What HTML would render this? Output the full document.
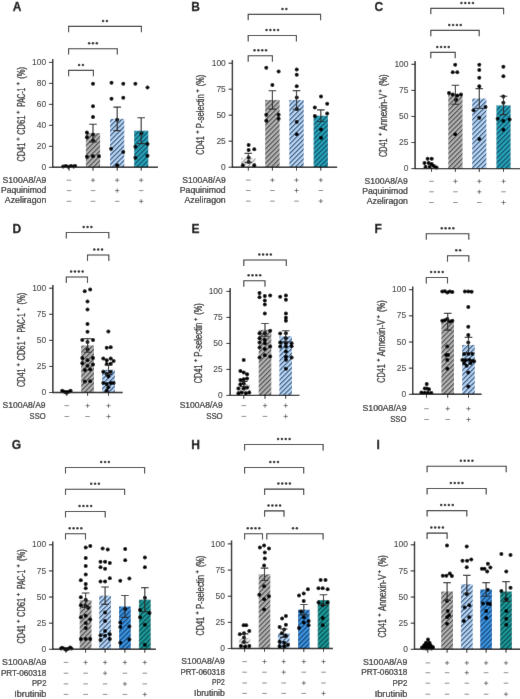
<!DOCTYPE html>
<html><head><meta charset="utf-8"><title>Figure</title>
<style>html,body{margin:0;padding:0;background:#fff;}svg{display:block;will-change:transform;}</style></head>
<body><svg width="520" height="699" viewBox="0 0 520 699" font-family='"Liberation Sans", sans-serif'>
<defs><pattern id="p_ctrl" patternUnits="userSpaceOnUse" width="3.4" height="3.4" patternTransform="rotate(45)"><rect width="3.4" height="3.4" fill="#f2f2f2"/><rect width="1.1" height="3.4" fill="#a0a0a0"/></pattern><pattern id="p_gray" patternUnits="userSpaceOnUse" width="3.4" height="3.4" patternTransform="rotate(45)"><rect width="3.4" height="3.4" fill="#b3b3b3"/><rect width="1.1" height="3.4" fill="#454545"/></pattern><pattern id="p_lb" patternUnits="userSpaceOnUse" width="3.4" height="3.4" patternTransform="rotate(45)"><rect width="3.4" height="3.4" fill="#b7d5f4"/><rect width="1.1" height="3.4" fill="#2e4b70"/></pattern><pattern id="p_teal" patternUnits="userSpaceOnUse" width="3.4" height="3.4" patternTransform="rotate(45)"><rect width="3.4" height="3.4" fill="#27a3b8"/><rect width="1.1" height="3.4" fill="#0c4660"/></pattern><pattern id="p_teal2" patternUnits="userSpaceOnUse" width="3.4" height="3.4" patternTransform="rotate(45)"><rect width="3.4" height="3.4" fill="#1b9898"/><rect width="1.1" height="3.4" fill="#0a4646"/></pattern><pattern id="p_pp2" patternUnits="userSpaceOnUse" width="3.4" height="3.4" patternTransform="rotate(45)"><rect width="3.4" height="3.4" fill="#3b93de"/><rect width="1.1" height="3.4" fill="#123c6c"/></pattern><filter id="bl" x="0" y="0" width="100%" height="100%" filterUnits="userSpaceOnUse"><feConvolveMatrix order="3" kernelMatrix="0.0036 0.0528 0.0036 0.0528 0.7744 0.0528 0.0036 0.0528 0.0036" divisor="1" edgeMode="duplicate" preserveAlpha="true"/></filter></defs>
<g filter="url(#bl)">
<rect width="520" height="699" fill="#fff"/>
<text x="12.8" y="10.7" font-weight="bold" font-size="12" fill="#111" stroke="#111" stroke-width="0.3">A</text>
<rect x="61.9" y="166.25" width="14.2" height="1.05" fill="url(#p_ctrl)"/>
<rect x="85.9" y="133.1" width="14.2" height="34.2" fill="url(#p_gray)"/>
<rect x="110.1" y="118.84" width="14.2" height="48.46" fill="url(#p_lb)"/>
<rect x="134.1" y="130.69" width="14.2" height="36.61" fill="url(#p_teal)"/>
<circle cx="63.2" cy="166.5" r="2.0"/>
<circle cx="65.8" cy="165.9" r="2.0"/>
<circle cx="68.4" cy="166.8" r="2.0"/>
<circle cx="71" cy="165.9" r="2.0"/>
<circle cx="73.6" cy="166.6" r="2.0"/>
<circle cx="75.2" cy="166" r="2.0"/>
<circle cx="93" cy="83.7" r="2.0"/>
<circle cx="93" cy="106.3" r="2.0"/>
<circle cx="93" cy="117" r="2.0"/>
<circle cx="86.9" cy="132.6" r="2.0"/>
<circle cx="93" cy="134.6" r="2.0"/>
<circle cx="86.9" cy="137.2" r="2.0"/>
<circle cx="93" cy="140.6" r="2.0"/>
<circle cx="86.9" cy="156.8" r="2.0"/>
<circle cx="93" cy="156.2" r="2.0"/>
<circle cx="99" cy="156.2" r="2.0"/>
<circle cx="111.5" cy="82.7" r="2.0"/>
<circle cx="123.3" cy="83.7" r="2.0"/>
<circle cx="111.5" cy="98.8" r="2.0"/>
<circle cx="123.3" cy="97.8" r="2.0"/>
<circle cx="117.2" cy="119.8" r="2.0"/>
<circle cx="111.1" cy="148.7" r="2.0"/>
<circle cx="123.3" cy="152.1" r="2.0"/>
<circle cx="117.2" cy="165.3" r="2.0"/>
<circle cx="135.4" cy="83.7" r="2.0"/>
<circle cx="147.5" cy="87.5" r="2.0"/>
<circle cx="141.4" cy="133.6" r="2.0"/>
<circle cx="135.4" cy="146.7" r="2.0"/>
<circle cx="147.5" cy="144.1" r="2.0"/>
<circle cx="135.4" cy="157.8" r="2.0"/>
<circle cx="147.5" cy="155.8" r="2.0"/>
<path d="M93 124.29V141.91M89.2 124.29H96.8M89.2 141.91H96.8" stroke="#2a2a2a" stroke-width="1.15" fill="none"/>
<path d="M117.2 107.09V130.59M113.4 107.09H121M113.4 130.59H121" stroke="#2a2a2a" stroke-width="1.15" fill="none"/>
<path d="M141.2 117.79V143.59M137.4 117.79H145M137.4 143.59H145" stroke="#2a2a2a" stroke-width="1.15" fill="none"/>
<path d="M52.7 59.1V167.3H158" stroke="#151515" stroke-width="1.4" fill="none"/>
<path d="M48.9 167.3H52.7M48.9 146.32H52.7M48.9 125.34H52.7M48.9 104.36H52.7M48.9 83.38H52.7M48.9 62.4H52.7M69 167.3V170.7M93 167.3V170.7M117.2 167.3V170.7M141.2 167.3V170.7" stroke="#151515" stroke-width="1" fill="none"/>
<text x="46.1" y="169.9" text-anchor="end" font-size="9.4" fill="#2a2a2a" stroke="#2a2a2a" stroke-width="0.05" textLength="4.7" lengthAdjust="spacingAndGlyphs">0</text>
<text x="46.1" y="148.92" text-anchor="end" font-size="9.4" fill="#2a2a2a" stroke="#2a2a2a" stroke-width="0.05" textLength="9.41" lengthAdjust="spacingAndGlyphs">20</text>
<text x="46.1" y="127.94" text-anchor="end" font-size="9.4" fill="#2a2a2a" stroke="#2a2a2a" stroke-width="0.05" textLength="9.41" lengthAdjust="spacingAndGlyphs">40</text>
<text x="46.1" y="106.96" text-anchor="end" font-size="9.4" fill="#2a2a2a" stroke="#2a2a2a" stroke-width="0.05" textLength="9.41" lengthAdjust="spacingAndGlyphs">60</text>
<text x="46.1" y="85.98" text-anchor="end" font-size="9.4" fill="#2a2a2a" stroke="#2a2a2a" stroke-width="0.05" textLength="9.41" lengthAdjust="spacingAndGlyphs">80</text>
<text x="46.1" y="65" text-anchor="end" font-size="9.4" fill="#2a2a2a" stroke="#2a2a2a" stroke-width="0.05" textLength="14.11" lengthAdjust="spacingAndGlyphs">100</text>
<path d="M68.6 76.3V70.4H93.4V76.3" stroke="#2c2c2c" stroke-width="1.1" fill="none"/>
<circle cx="79.08" cy="64.9" r="1.25" fill="#222"/>
<circle cx="82.92" cy="64.9" r="1.25" fill="#222"/>
<path d="M68.6 54.6V48.7H117.3V54.6" stroke="#2c2c2c" stroke-width="1.1" fill="none"/>
<circle cx="89.1" cy="43.2" r="1.25" fill="#222"/>
<circle cx="92.95" cy="43.2" r="1.25" fill="#222"/>
<circle cx="96.8" cy="43.2" r="1.25" fill="#222"/>
<path d="M68.6 32.3V26.4H141.4V32.3" stroke="#2c2c2c" stroke-width="1.1" fill="none"/>
<circle cx="103.08" cy="20.9" r="1.25" fill="#222"/>
<circle cx="106.92" cy="20.9" r="1.25" fill="#222"/>
<text transform="translate(24.6,161.4) rotate(-90)" font-size="10.5" fill="#2a2a2a" stroke="#2a2a2a" stroke-width="0.32" textLength="18.6" lengthAdjust="spacingAndGlyphs">CD41</text>
<path d="M16.5 139.1H19.7M18.1 137.5V140.7" stroke="#2a2a2a" stroke-width="0.85" fill="none"/>
<text transform="translate(24.6,134.8) rotate(-90)" font-size="10.5" fill="#2a2a2a" stroke="#2a2a2a" stroke-width="0.32" textLength="19.1" lengthAdjust="spacingAndGlyphs">CD61</text>
<path d="M16.5 112.35H19.7M18.1 110.75V113.95" stroke="#2a2a2a" stroke-width="0.85" fill="none"/>
<text transform="translate(24.6,106.8) rotate(-90)" font-size="10.5" fill="#2a2a2a" stroke="#2a2a2a" stroke-width="0.32" textLength="19.1" lengthAdjust="spacingAndGlyphs">PAC-1</text>
<path d="M16.5 83.65H19.7M18.1 82.05V85.25" stroke="#2a2a2a" stroke-width="0.85" fill="none"/>
<text transform="translate(24.6,78.7) rotate(-90)" font-size="10.5" fill="#2a2a2a" stroke="#2a2a2a" stroke-width="0.32" textLength="11.8" lengthAdjust="spacingAndGlyphs">(%)</text>
<text x="46.3" y="182.7" text-anchor="end" font-size="9.0" fill="#2a2a2a" stroke="#2a2a2a" stroke-width="0.24" textLength="43.8" lengthAdjust="spacingAndGlyphs">S100A8/A9</text>
<path d="M66.7 180.2H71.3" stroke="#777" stroke-width="0.85" fill="none"/>
<path d="M90.9 180.2H95.1M93 178.1V182.3" stroke="#555" stroke-width="0.8" fill="none"/>
<path d="M115.1 180.2H119.3M117.2 178.1V182.3" stroke="#555" stroke-width="0.8" fill="none"/>
<path d="M139.1 180.2H143.3M141.2 178.1V182.3" stroke="#555" stroke-width="0.8" fill="none"/>
<text x="46.3" y="192.7" text-anchor="end" font-size="9.0" fill="#2a2a2a" stroke="#2a2a2a" stroke-width="0.24" textLength="45.2" lengthAdjust="spacingAndGlyphs">Paquinimod</text>
<path d="M66.7 190.6H71.3" stroke="#777" stroke-width="0.85" fill="none"/>
<path d="M90.7 190.6H95.3" stroke="#777" stroke-width="0.85" fill="none"/>
<path d="M115.1 190.6H119.3M117.2 188.5V192.7" stroke="#555" stroke-width="0.8" fill="none"/>
<path d="M138.9 190.6H143.5" stroke="#777" stroke-width="0.85" fill="none"/>
<text x="46.3" y="202.9" text-anchor="end" font-size="9.0" fill="#2a2a2a" stroke="#2a2a2a" stroke-width="0.24" textLength="41.5" lengthAdjust="spacingAndGlyphs">Azeliragon</text>
<path d="M66.7 201.3H71.3" stroke="#777" stroke-width="0.85" fill="none"/>
<path d="M90.7 201.3H95.3" stroke="#777" stroke-width="0.85" fill="none"/>
<path d="M114.9 201.3H119.5" stroke="#777" stroke-width="0.85" fill="none"/>
<path d="M139.1 201.3H143.3M141.2 199.2V203.4" stroke="#555" stroke-width="0.8" fill="none"/>
<text x="191.2" y="10.7" font-weight="bold" font-size="12" fill="#111" stroke="#111" stroke-width="0.3">B</text>
<rect x="241.1" y="157.84" width="14.4" height="9.36" fill="url(#p_ctrl)"/>
<rect x="265.2" y="99.91" width="14.4" height="67.29" fill="url(#p_gray)"/>
<rect x="289.3" y="99.91" width="14.4" height="67.29" fill="url(#p_lb)"/>
<rect x="313.6" y="115.72" width="14.4" height="51.48" fill="url(#p_teal)"/>
<circle cx="248.6" cy="144.9" r="2.0"/>
<circle cx="248.6" cy="150.1" r="2.0"/>
<circle cx="254.3" cy="149.2" r="2.0"/>
<circle cx="248.6" cy="157.5" r="2.0"/>
<circle cx="248.6" cy="162" r="2.0"/>
<circle cx="242.8" cy="165.3" r="2.0"/>
<circle cx="254.3" cy="165.3" r="2.0"/>
<circle cx="266.3" cy="67.8" r="2.0"/>
<circle cx="278.6" cy="71.5" r="2.0"/>
<circle cx="272.4" cy="85" r="2.0"/>
<circle cx="266.3" cy="114.7" r="2.0"/>
<circle cx="278.6" cy="114.7" r="2.0"/>
<circle cx="266.3" cy="120.8" r="2.0"/>
<circle cx="278.6" cy="118.8" r="2.0"/>
<circle cx="296.7" cy="69.4" r="2.0"/>
<circle cx="296.7" cy="74.8" r="2.0"/>
<circle cx="296.7" cy="86.3" r="2.0"/>
<circle cx="296.7" cy="97.4" r="2.0"/>
<circle cx="296.7" cy="108.9" r="2.0"/>
<circle cx="296.7" cy="121.9" r="2.0"/>
<circle cx="296.7" cy="134.2" r="2.0"/>
<circle cx="321" cy="96.6" r="2.0"/>
<circle cx="314.8" cy="107.5" r="2.0"/>
<circle cx="327.2" cy="103.8" r="2.0"/>
<circle cx="314.8" cy="115.9" r="2.0"/>
<circle cx="327.2" cy="113.6" r="2.0"/>
<circle cx="321" cy="129.5" r="2.0"/>
<circle cx="321" cy="137.7" r="2.0"/>
<path d="M248.3 153.37V162.31M244.5 153.37H252.1M244.5 162.31H252.1" stroke="#2a2a2a" stroke-width="1.15" fill="none"/>
<path d="M272.4 90.76V109.06M268.6 90.76H276.2M268.6 109.06H276.2" stroke="#2a2a2a" stroke-width="1.15" fill="none"/>
<path d="M296.5 90.55V109.27M292.7 90.55H300.3M292.7 109.27H300.3" stroke="#2a2a2a" stroke-width="1.15" fill="none"/>
<path d="M320.8 109.9V121.54M317 109.9H324.6M317 121.54H324.6" stroke="#2a2a2a" stroke-width="1.15" fill="none"/>
<path d="M232.4 59.9V167.2H337.2" stroke="#151515" stroke-width="1.4" fill="none"/>
<path d="M228.6 167.2H232.4M228.6 141.2H232.4M228.6 115.2H232.4M228.6 89.2H232.4M228.6 63.2H232.4M248.3 167.2V170.6M272.4 167.2V170.6M296.5 167.2V170.6M320.8 167.2V170.6" stroke="#151515" stroke-width="1" fill="none"/>
<text x="225.8" y="169.8" text-anchor="end" font-size="9.4" fill="#2a2a2a" stroke="#2a2a2a" stroke-width="0.05" textLength="4.7" lengthAdjust="spacingAndGlyphs">0</text>
<text x="225.8" y="143.8" text-anchor="end" font-size="9.4" fill="#2a2a2a" stroke="#2a2a2a" stroke-width="0.05" textLength="9.41" lengthAdjust="spacingAndGlyphs">25</text>
<text x="225.8" y="117.8" text-anchor="end" font-size="9.4" fill="#2a2a2a" stroke="#2a2a2a" stroke-width="0.05" textLength="9.41" lengthAdjust="spacingAndGlyphs">50</text>
<text x="225.8" y="91.8" text-anchor="end" font-size="9.4" fill="#2a2a2a" stroke="#2a2a2a" stroke-width="0.05" textLength="9.41" lengthAdjust="spacingAndGlyphs">75</text>
<text x="225.8" y="65.8" text-anchor="end" font-size="9.4" fill="#2a2a2a" stroke="#2a2a2a" stroke-width="0.05" textLength="14.11" lengthAdjust="spacingAndGlyphs">100</text>
<path d="M248.2 61.7V55.8H272.4V61.7" stroke="#2c2c2c" stroke-width="1.1" fill="none"/>
<circle cx="254.52" cy="50.3" r="1.25" fill="#222"/>
<circle cx="258.37" cy="50.3" r="1.25" fill="#222"/>
<circle cx="262.22" cy="50.3" r="1.25" fill="#222"/>
<circle cx="266.07" cy="50.3" r="1.25" fill="#222"/>
<path d="M248.2 41.4V35.5H296.4V41.4" stroke="#2c2c2c" stroke-width="1.1" fill="none"/>
<circle cx="266.52" cy="30" r="1.25" fill="#222"/>
<circle cx="270.37" cy="30" r="1.25" fill="#222"/>
<circle cx="274.22" cy="30" r="1.25" fill="#222"/>
<circle cx="278.07" cy="30" r="1.25" fill="#222"/>
<path d="M248.2 20.3V14.4H320.6V20.3" stroke="#2c2c2c" stroke-width="1.1" fill="none"/>
<circle cx="282.47" cy="8.9" r="1.25" fill="#222"/>
<circle cx="286.32" cy="8.9" r="1.25" fill="#222"/>
<text transform="translate(204.1,154.7) rotate(-90)" font-size="10.5" fill="#2a2a2a" stroke="#2a2a2a" stroke-width="0.32" textLength="18.6" lengthAdjust="spacingAndGlyphs">CD41</text>
<path d="M196 132.05H199.2M197.6 130.45V133.65" stroke="#2a2a2a" stroke-width="0.85" fill="none"/>
<text transform="translate(204.1,128.2) rotate(-90)" font-size="10.5" fill="#2a2a2a" stroke="#2a2a2a" stroke-width="0.32" textLength="34.1" lengthAdjust="spacingAndGlyphs">P-selectin</text>
<path d="M196 90.9H199.2M197.6 89.3V92.5" stroke="#2a2a2a" stroke-width="0.85" fill="none"/>
<text transform="translate(204.1,86.2) rotate(-90)" font-size="10.5" fill="#2a2a2a" stroke="#2a2a2a" stroke-width="0.32" textLength="11.4" lengthAdjust="spacingAndGlyphs">(%)</text>
<text x="225.7" y="182.6" text-anchor="end" font-size="9.0" fill="#2a2a2a" stroke="#2a2a2a" stroke-width="0.24" textLength="43.4" lengthAdjust="spacingAndGlyphs">S100A8/A9</text>
<path d="M246 180.1H250.6" stroke="#777" stroke-width="0.85" fill="none"/>
<path d="M270.3 180.1H274.5M272.4 178V182.2" stroke="#555" stroke-width="0.8" fill="none"/>
<path d="M294.4 180.1H298.6M296.5 178V182.2" stroke="#555" stroke-width="0.8" fill="none"/>
<path d="M318.7 180.1H322.9M320.8 178V182.2" stroke="#555" stroke-width="0.8" fill="none"/>
<text x="225.7" y="192.6" text-anchor="end" font-size="9.0" fill="#2a2a2a" stroke="#2a2a2a" stroke-width="0.24" textLength="45.9" lengthAdjust="spacingAndGlyphs">Paquinimod</text>
<path d="M246 190.5H250.6" stroke="#777" stroke-width="0.85" fill="none"/>
<path d="M270.1 190.5H274.7" stroke="#777" stroke-width="0.85" fill="none"/>
<path d="M294.4 190.5H298.6M296.5 188.4V192.6" stroke="#555" stroke-width="0.8" fill="none"/>
<path d="M318.5 190.5H323.1" stroke="#777" stroke-width="0.85" fill="none"/>
<text x="225.7" y="202.7" text-anchor="end" font-size="9.0" fill="#2a2a2a" stroke="#2a2a2a" stroke-width="0.24" textLength="41.2" lengthAdjust="spacingAndGlyphs">Azeliragon</text>
<path d="M246 201.1H250.6" stroke="#777" stroke-width="0.85" fill="none"/>
<path d="M270.1 201.1H274.7" stroke="#777" stroke-width="0.85" fill="none"/>
<path d="M294.2 201.1H298.8" stroke="#777" stroke-width="0.85" fill="none"/>
<path d="M318.7 201.1H322.9M320.8 199V203.2" stroke="#555" stroke-width="0.8" fill="none"/>
<text x="374.6" y="10.7" font-weight="bold" font-size="12" fill="#111" stroke="#111" stroke-width="0.3">C</text>
<rect x="424.4" y="165.47" width="14.2" height="3.13" fill="url(#p_ctrl)"/>
<rect x="448.3" y="94.76" width="14.2" height="73.84" fill="url(#p_gray)"/>
<rect x="472.2" y="98.51" width="14.2" height="70.09" fill="url(#p_lb)"/>
<rect x="496.4" y="105.39" width="14.2" height="63.21" fill="url(#p_teal)"/>
<circle cx="427.6" cy="158.8" r="2.0"/>
<circle cx="431.7" cy="158.8" r="2.0"/>
<circle cx="424.5" cy="163" r="2.0"/>
<circle cx="428.6" cy="163" r="2.0"/>
<circle cx="431.7" cy="164" r="2.0"/>
<circle cx="425.5" cy="167.1" r="2.0"/>
<circle cx="429.7" cy="167.1" r="2.0"/>
<circle cx="433.8" cy="166.1" r="2.0"/>
<circle cx="436.5" cy="167.6" r="2.0"/>
<circle cx="455.2" cy="64.8" r="2.0"/>
<circle cx="452.7" cy="72.2" r="2.0"/>
<circle cx="457.3" cy="72.2" r="2.0"/>
<circle cx="449" cy="93" r="2.0"/>
<circle cx="452.7" cy="94.5" r="2.0"/>
<circle cx="457.3" cy="95.5" r="2.0"/>
<circle cx="461" cy="94.5" r="2.0"/>
<circle cx="456" cy="99.7" r="2.0"/>
<circle cx="455.2" cy="134.3" r="2.0"/>
<circle cx="479.3" cy="64.8" r="2.0"/>
<circle cx="479.3" cy="70" r="2.0"/>
<circle cx="479.3" cy="77.8" r="2.0"/>
<circle cx="479.3" cy="86.2" r="2.0"/>
<circle cx="473.5" cy="110.2" r="2.0"/>
<circle cx="485.5" cy="106.9" r="2.0"/>
<circle cx="479.3" cy="117.7" r="2.0"/>
<circle cx="479.3" cy="139.1" r="2.0"/>
<circle cx="503.4" cy="66.8" r="2.0"/>
<circle cx="503.4" cy="76.2" r="2.0"/>
<circle cx="503.4" cy="96.5" r="2.0"/>
<circle cx="503.4" cy="102.8" r="2.0"/>
<circle cx="497.6" cy="118.8" r="2.0"/>
<circle cx="503.4" cy="121" r="2.0"/>
<circle cx="509.6" cy="119.4" r="2.0"/>
<circle cx="503.4" cy="129.8" r="2.0"/>
<path d="M455.4 85.26V104.25M451.6 85.26H459.2M451.6 104.25H459.2" stroke="#2a2a2a" stroke-width="1.15" fill="none"/>
<path d="M479.3 88.6V108.42M475.5 88.6H483.1M475.5 108.42H483.1" stroke="#2a2a2a" stroke-width="1.15" fill="none"/>
<path d="M503.5 96.22V114.57M499.7 96.22H507.3M499.7 114.57H507.3" stroke="#2a2a2a" stroke-width="1.15" fill="none"/>
<path d="M415.1 61V168.6H520" stroke="#151515" stroke-width="1.4" fill="none"/>
<path d="M411.3 168.6H415.1M411.3 142.53H415.1M411.3 116.45H415.1M411.3 90.38H415.1M411.3 64.3H415.1M431.5 168.6V172M455.4 168.6V172M479.3 168.6V172M503.5 168.6V172" stroke="#151515" stroke-width="1" fill="none"/>
<text x="408.5" y="171.2" text-anchor="end" font-size="9.4" fill="#2a2a2a" stroke="#2a2a2a" stroke-width="0.05" textLength="4.7" lengthAdjust="spacingAndGlyphs">0</text>
<text x="408.5" y="145.12" text-anchor="end" font-size="9.4" fill="#2a2a2a" stroke="#2a2a2a" stroke-width="0.05" textLength="9.41" lengthAdjust="spacingAndGlyphs">25</text>
<text x="408.5" y="119.05" text-anchor="end" font-size="9.4" fill="#2a2a2a" stroke="#2a2a2a" stroke-width="0.05" textLength="9.41" lengthAdjust="spacingAndGlyphs">50</text>
<text x="408.5" y="92.97" text-anchor="end" font-size="9.4" fill="#2a2a2a" stroke="#2a2a2a" stroke-width="0.05" textLength="9.41" lengthAdjust="spacingAndGlyphs">75</text>
<text x="408.5" y="66.9" text-anchor="end" font-size="9.4" fill="#2a2a2a" stroke="#2a2a2a" stroke-width="0.05" textLength="14.11" lengthAdjust="spacingAndGlyphs">100</text>
<path d="M430.8 58.3V52.4H455.2V58.3" stroke="#2c2c2c" stroke-width="1.1" fill="none"/>
<circle cx="437.23" cy="46.9" r="1.25" fill="#222"/>
<circle cx="441.07" cy="46.9" r="1.25" fill="#222"/>
<circle cx="444.93" cy="46.9" r="1.25" fill="#222"/>
<circle cx="448.77" cy="46.9" r="1.25" fill="#222"/>
<path d="M430.8 36.3V30.4H479.2V36.3" stroke="#2c2c2c" stroke-width="1.1" fill="none"/>
<circle cx="449.23" cy="24.9" r="1.25" fill="#222"/>
<circle cx="453.07" cy="24.9" r="1.25" fill="#222"/>
<circle cx="456.93" cy="24.9" r="1.25" fill="#222"/>
<circle cx="460.77" cy="24.9" r="1.25" fill="#222"/>
<path d="M430.8 14.3V8.4H503.6V14.3" stroke="#2c2c2c" stroke-width="1.1" fill="none"/>
<circle cx="461.43" cy="2.9" r="1.25" fill="#222"/>
<circle cx="465.28" cy="2.9" r="1.25" fill="#222"/>
<circle cx="469.13" cy="2.9" r="1.25" fill="#222"/>
<circle cx="472.98" cy="2.9" r="1.25" fill="#222"/>
<text transform="translate(386.7,156.9) rotate(-90)" font-size="10.5" fill="#2a2a2a" stroke="#2a2a2a" stroke-width="0.32" textLength="18.5" lengthAdjust="spacingAndGlyphs">CD41</text>
<path d="M378.6 134.35H381.8M380.2 132.75V135.95" stroke="#2a2a2a" stroke-width="0.85" fill="none"/>
<text transform="translate(386.7,130.4) rotate(-90)" font-size="10.5" fill="#2a2a2a" stroke="#2a2a2a" stroke-width="0.32" textLength="36.6" lengthAdjust="spacingAndGlyphs">Annexin-V</text>
<path d="M378.6 91H381.8M380.2 89.4V92.6" stroke="#2a2a2a" stroke-width="0.85" fill="none"/>
<text transform="translate(386.7,86.1) rotate(-90)" font-size="10.5" fill="#2a2a2a" stroke="#2a2a2a" stroke-width="0.32" textLength="11.6" lengthAdjust="spacingAndGlyphs">(%)</text>
<text x="407.8" y="183.8" text-anchor="end" font-size="9.0" fill="#2a2a2a" stroke="#2a2a2a" stroke-width="0.24" textLength="43.3" lengthAdjust="spacingAndGlyphs">S100A8/A9</text>
<path d="M429.2 181.3H433.8" stroke="#777" stroke-width="0.85" fill="none"/>
<path d="M453.3 181.3H457.5M455.4 179.2V183.4" stroke="#555" stroke-width="0.8" fill="none"/>
<path d="M477.2 181.3H481.4M479.3 179.2V183.4" stroke="#555" stroke-width="0.8" fill="none"/>
<path d="M501.4 181.3H505.6M503.5 179.2V183.4" stroke="#555" stroke-width="0.8" fill="none"/>
<text x="407.8" y="193.9" text-anchor="end" font-size="9.0" fill="#2a2a2a" stroke="#2a2a2a" stroke-width="0.24" textLength="45.6" lengthAdjust="spacingAndGlyphs">Paquinimod</text>
<path d="M429.2 191.8H433.8" stroke="#777" stroke-width="0.85" fill="none"/>
<path d="M453.1 191.8H457.7" stroke="#777" stroke-width="0.85" fill="none"/>
<path d="M477.2 191.8H481.4M479.3 189.7V193.9" stroke="#555" stroke-width="0.8" fill="none"/>
<path d="M501.2 191.8H505.8" stroke="#777" stroke-width="0.85" fill="none"/>
<text x="407.8" y="204.1" text-anchor="end" font-size="9.0" fill="#2a2a2a" stroke="#2a2a2a" stroke-width="0.24" textLength="41" lengthAdjust="spacingAndGlyphs">Azeliragon</text>
<path d="M429.2 202.5H433.8" stroke="#777" stroke-width="0.85" fill="none"/>
<path d="M453.1 202.5H457.7" stroke="#777" stroke-width="0.85" fill="none"/>
<path d="M477 202.5H481.6" stroke="#777" stroke-width="0.85" fill="none"/>
<path d="M501.4 202.5H505.6M503.5 200.4V204.6" stroke="#555" stroke-width="0.8" fill="none"/>
<text x="12.5" y="233.4" font-weight="bold" font-size="12" fill="#111" stroke="#111" stroke-width="0.3">D</text>
<rect x="60.4" y="391.46" width="12.8" height="1.04" fill="url(#p_ctrl)"/>
<rect x="81.2" y="345.46" width="12.8" height="47.04" fill="url(#p_gray)"/>
<rect x="102.1" y="369.76" width="12.8" height="22.74" fill="url(#p_lb)"/>
<circle cx="62.2" cy="390.8" r="2.0"/>
<circle cx="64.5" cy="391.8" r="2.0"/>
<circle cx="66.5" cy="392.2" r="2.0"/>
<circle cx="68.5" cy="391.8" r="2.0"/>
<circle cx="70.6" cy="390.8" r="2.0"/>
<circle cx="66.4" cy="392.8" r="2.0"/>
<circle cx="84.7" cy="291.2" r="2.0"/>
<circle cx="90.2" cy="289.4" r="2.0"/>
<circle cx="87.5" cy="301.5" r="2.0"/>
<circle cx="87.5" cy="309.5" r="2.0"/>
<circle cx="87.5" cy="324.1" r="2.0"/>
<circle cx="87.5" cy="331.8" r="2.0"/>
<circle cx="82.3" cy="340.1" r="2.0"/>
<circle cx="93" cy="340.1" r="2.0"/>
<circle cx="87.5" cy="342.1" r="2.0"/>
<circle cx="87.5" cy="349.5" r="2.0"/>
<circle cx="82.3" cy="358.1" r="2.0"/>
<circle cx="87.5" cy="360.3" r="2.0"/>
<circle cx="93" cy="358.1" r="2.0"/>
<circle cx="82.3" cy="363.3" r="2.0"/>
<circle cx="87.5" cy="365.8" r="2.0"/>
<circle cx="93" cy="364.5" r="2.0"/>
<circle cx="90.2" cy="369.6" r="2.0"/>
<circle cx="84.9" cy="370.1" r="2.0"/>
<circle cx="84.9" cy="381.6" r="2.0"/>
<circle cx="90.2" cy="381.3" r="2.0"/>
<circle cx="108.4" cy="331.5" r="2.0"/>
<circle cx="106.7" cy="347.8" r="2.0"/>
<circle cx="110.7" cy="347.3" r="2.0"/>
<circle cx="103.3" cy="358.6" r="2.0"/>
<circle cx="106.7" cy="360.3" r="2.0"/>
<circle cx="110.7" cy="358.6" r="2.0"/>
<circle cx="113.6" cy="361" r="2.0"/>
<circle cx="106.7" cy="364.1" r="2.0"/>
<circle cx="110.7" cy="363.8" r="2.0"/>
<circle cx="103.3" cy="371.8" r="2.0"/>
<circle cx="106.7" cy="374.1" r="2.0"/>
<circle cx="110.7" cy="371.8" r="2.0"/>
<circle cx="108.4" cy="376.5" r="2.0"/>
<circle cx="103.3" cy="383" r="2.0"/>
<circle cx="106.7" cy="383.9" r="2.0"/>
<circle cx="110.7" cy="383" r="2.0"/>
<circle cx="113.6" cy="383" r="2.0"/>
<circle cx="108.4" cy="387.3" r="2.0"/>
<circle cx="106.7" cy="390.4" r="2.0"/>
<path d="M87.6 338.68V352.24M83.8 338.68H91.4M83.8 352.24H91.4" stroke="#2a2a2a" stroke-width="1.15" fill="none"/>
<path d="M108.5 365.17V374.35M104.7 365.17H112.3M104.7 374.35H112.3" stroke="#2a2a2a" stroke-width="1.15" fill="none"/>
<path d="M52.85 284.9V392.5H122.7" stroke="#151515" stroke-width="1.4" fill="none"/>
<path d="M49.05 392.5H52.85M49.05 366.43H52.85M49.05 340.35H52.85M49.05 314.27H52.85M49.05 288.2H52.85M66.8 392.5V395.9M87.6 392.5V395.9M108.5 392.5V395.9" stroke="#151515" stroke-width="1" fill="none"/>
<text x="46.25" y="395.1" text-anchor="end" font-size="9.4" fill="#2a2a2a" stroke="#2a2a2a" stroke-width="0.05" textLength="4.7" lengthAdjust="spacingAndGlyphs">0</text>
<text x="46.25" y="369.03" text-anchor="end" font-size="9.4" fill="#2a2a2a" stroke="#2a2a2a" stroke-width="0.05" textLength="9.41" lengthAdjust="spacingAndGlyphs">25</text>
<text x="46.25" y="342.95" text-anchor="end" font-size="9.4" fill="#2a2a2a" stroke="#2a2a2a" stroke-width="0.05" textLength="9.41" lengthAdjust="spacingAndGlyphs">50</text>
<text x="46.25" y="316.88" text-anchor="end" font-size="9.4" fill="#2a2a2a" stroke="#2a2a2a" stroke-width="0.05" textLength="9.41" lengthAdjust="spacingAndGlyphs">75</text>
<text x="46.25" y="290.8" text-anchor="end" font-size="9.4" fill="#2a2a2a" stroke="#2a2a2a" stroke-width="0.05" textLength="14.11" lengthAdjust="spacingAndGlyphs">100</text>
<path d="M66.3 282.9V277H87.5V282.9" stroke="#2c2c2c" stroke-width="1.1" fill="none"/>
<circle cx="71.12" cy="271.5" r="1.25" fill="#222"/>
<circle cx="74.98" cy="271.5" r="1.25" fill="#222"/>
<circle cx="78.83" cy="271.5" r="1.25" fill="#222"/>
<circle cx="82.68" cy="271.5" r="1.25" fill="#222"/>
<path d="M87.5 260.9V255H108.8V260.9" stroke="#2c2c2c" stroke-width="1.1" fill="none"/>
<circle cx="94.3" cy="249.5" r="1.25" fill="#222"/>
<circle cx="98.15" cy="249.5" r="1.25" fill="#222"/>
<circle cx="102" cy="249.5" r="1.25" fill="#222"/>
<path d="M66.3 238.4V232.5H108.8V238.4" stroke="#2c2c2c" stroke-width="1.1" fill="none"/>
<circle cx="83.7" cy="227" r="1.25" fill="#222"/>
<circle cx="87.55" cy="227" r="1.25" fill="#222"/>
<circle cx="91.4" cy="227" r="1.25" fill="#222"/>
<text transform="translate(24.8,387.1) rotate(-90)" font-size="10.5" fill="#2a2a2a" stroke="#2a2a2a" stroke-width="0.32" textLength="18.6" lengthAdjust="spacingAndGlyphs">CD41</text>
<path d="M16.7 364.8H19.9M18.3 363.2V366.4" stroke="#2a2a2a" stroke-width="0.85" fill="none"/>
<text transform="translate(24.8,360.5) rotate(-90)" font-size="10.5" fill="#2a2a2a" stroke="#2a2a2a" stroke-width="0.32" textLength="19.1" lengthAdjust="spacingAndGlyphs">CD61</text>
<path d="M16.7 338.05H19.9M18.3 336.45V339.65" stroke="#2a2a2a" stroke-width="0.85" fill="none"/>
<text transform="translate(24.8,332.5) rotate(-90)" font-size="10.5" fill="#2a2a2a" stroke="#2a2a2a" stroke-width="0.32" textLength="19.1" lengthAdjust="spacingAndGlyphs">PAC-1</text>
<path d="M16.7 309.35H19.9M18.3 307.75V310.95" stroke="#2a2a2a" stroke-width="0.85" fill="none"/>
<text transform="translate(24.8,304.4) rotate(-90)" font-size="10.5" fill="#2a2a2a" stroke="#2a2a2a" stroke-width="0.32" textLength="11.8" lengthAdjust="spacingAndGlyphs">(%)</text>
<text x="45.6" y="408" text-anchor="end" font-size="9.0" fill="#2a2a2a" stroke="#2a2a2a" stroke-width="0.24" textLength="43" lengthAdjust="spacingAndGlyphs">S100A8/A9</text>
<path d="M64.5 405.7H69.1" stroke="#777" stroke-width="0.85" fill="none"/>
<path d="M85.5 405.7H89.7M87.6 403.6V407.8" stroke="#555" stroke-width="0.8" fill="none"/>
<path d="M106.4 405.7H110.6M108.5 403.6V407.8" stroke="#555" stroke-width="0.8" fill="none"/>
<text x="45.6" y="418.8" text-anchor="end" font-size="9.0" fill="#2a2a2a" stroke="#2a2a2a" stroke-width="0.24" textLength="16" lengthAdjust="spacingAndGlyphs">SSO</text>
<path d="M64.5 416.5H69.1" stroke="#777" stroke-width="0.85" fill="none"/>
<path d="M85.3 416.5H89.9" stroke="#777" stroke-width="0.85" fill="none"/>
<path d="M106.4 416.5H110.6M108.5 414.4V418.6" stroke="#555" stroke-width="0.8" fill="none"/>
<text x="191.5" y="233.4" font-weight="bold" font-size="12" fill="#111" stroke="#111" stroke-width="0.3">E</text>
<rect x="237.5" y="383.96" width="12.6" height="11.44" fill="url(#p_ctrl)"/>
<rect x="258.7" y="329.88" width="12.6" height="65.52" fill="url(#p_gray)"/>
<rect x="279.4" y="336.33" width="12.6" height="59.07" fill="url(#p_lb)"/>
<circle cx="243.7" cy="360" r="2.0"/>
<circle cx="240.4" cy="370.9" r="2.0"/>
<circle cx="243.7" cy="372.5" r="2.0"/>
<circle cx="247.1" cy="374.2" r="2.0"/>
<circle cx="240.4" cy="380.1" r="2.0"/>
<circle cx="243.7" cy="379.2" r="2.0"/>
<circle cx="247.1" cy="378.4" r="2.0"/>
<circle cx="240.4" cy="384.3" r="2.0"/>
<circle cx="243.7" cy="383.4" r="2.0"/>
<circle cx="238.4" cy="388.4" r="2.0"/>
<circle cx="243.7" cy="388.4" r="2.0"/>
<circle cx="247.1" cy="387.6" r="2.0"/>
<circle cx="238.4" cy="393.3" r="2.0"/>
<circle cx="241.7" cy="392.6" r="2.0"/>
<circle cx="245.9" cy="393.3" r="2.0"/>
<circle cx="249.3" cy="392.6" r="2.0"/>
<circle cx="259.5" cy="293" r="2.0"/>
<circle cx="259.5" cy="297.2" r="2.0"/>
<circle cx="264.8" cy="296.1" r="2.0"/>
<circle cx="270.2" cy="295.6" r="2.0"/>
<circle cx="264.8" cy="300.6" r="2.0"/>
<circle cx="264.8" cy="304.4" r="2.0"/>
<circle cx="264.8" cy="313.5" r="2.0"/>
<circle cx="259.5" cy="333.2" r="2.0"/>
<circle cx="264.8" cy="333.2" r="2.0"/>
<circle cx="270.2" cy="330.7" r="2.0"/>
<circle cx="259.5" cy="338.2" r="2.0"/>
<circle cx="264.8" cy="339.9" r="2.0"/>
<circle cx="259.5" cy="342.4" r="2.0"/>
<circle cx="264.8" cy="343.3" r="2.0"/>
<circle cx="270.2" cy="346.6" r="2.0"/>
<circle cx="259.5" cy="347.4" r="2.0"/>
<circle cx="264.8" cy="349.1" r="2.0"/>
<circle cx="259.5" cy="357.5" r="2.0"/>
<circle cx="264.8" cy="355.3" r="2.0"/>
<circle cx="270.2" cy="356.6" r="2.0"/>
<circle cx="280.2" cy="296.7" r="2.0"/>
<circle cx="285.9" cy="295.6" r="2.0"/>
<circle cx="285.9" cy="299.7" r="2.0"/>
<circle cx="285.9" cy="313.5" r="2.0"/>
<circle cx="285.9" cy="317.8" r="2.0"/>
<circle cx="285.9" cy="320.7" r="2.0"/>
<circle cx="280.2" cy="333.5" r="2.0"/>
<circle cx="285.9" cy="333.2" r="2.0"/>
<circle cx="285.9" cy="338.2" r="2.0"/>
<circle cx="280.2" cy="342.4" r="2.0"/>
<circle cx="285.9" cy="343.3" r="2.0"/>
<circle cx="291.6" cy="343.3" r="2.0"/>
<circle cx="280.2" cy="346.6" r="2.0"/>
<circle cx="285.9" cy="346.6" r="2.0"/>
<circle cx="291.6" cy="346.3" r="2.0"/>
<circle cx="285.9" cy="351.6" r="2.0"/>
<circle cx="285.9" cy="356.6" r="2.0"/>
<circle cx="291.6" cy="357.5" r="2.0"/>
<circle cx="285.9" cy="359.7" r="2.0"/>
<circle cx="285.9" cy="368.7" r="2.0"/>
<path d="M243.8 381.36V386.56M240 381.36H247.6M240 386.56H247.6" stroke="#2a2a2a" stroke-width="1.15" fill="none"/>
<path d="M265 323.54V336.22M261.2 323.54H268.8M261.2 336.22H268.8" stroke="#2a2a2a" stroke-width="1.15" fill="none"/>
<path d="M285.7 330.71V341.94M281.9 330.71H289.5M281.9 341.94H289.5" stroke="#2a2a2a" stroke-width="1.15" fill="none"/>
<path d="M230.15 288.1V395.4H299.5" stroke="#151515" stroke-width="1.4" fill="none"/>
<path d="M226.35 395.4H230.15M226.35 369.4H230.15M226.35 343.4H230.15M226.35 317.4H230.15M226.35 291.4H230.15M243.8 395.4V398.8M265 395.4V398.8M285.7 395.4V398.8" stroke="#151515" stroke-width="1" fill="none"/>
<text x="222.75" y="398" text-anchor="end" font-size="9.4" fill="#2a2a2a" stroke="#2a2a2a" stroke-width="0.05" textLength="4.7" lengthAdjust="spacingAndGlyphs">0</text>
<text x="222.75" y="372" text-anchor="end" font-size="9.4" fill="#2a2a2a" stroke="#2a2a2a" stroke-width="0.05" textLength="9.41" lengthAdjust="spacingAndGlyphs">25</text>
<text x="222.75" y="346" text-anchor="end" font-size="9.4" fill="#2a2a2a" stroke="#2a2a2a" stroke-width="0.05" textLength="9.41" lengthAdjust="spacingAndGlyphs">50</text>
<text x="222.75" y="320" text-anchor="end" font-size="9.4" fill="#2a2a2a" stroke="#2a2a2a" stroke-width="0.05" textLength="9.41" lengthAdjust="spacingAndGlyphs">75</text>
<text x="222.75" y="294" text-anchor="end" font-size="9.4" fill="#2a2a2a" stroke="#2a2a2a" stroke-width="0.05" textLength="14.11" lengthAdjust="spacingAndGlyphs">100</text>
<path d="M243.8 286.7V280.8H265V286.7" stroke="#2c2c2c" stroke-width="1.1" fill="none"/>
<circle cx="248.62" cy="275.3" r="1.25" fill="#222"/>
<circle cx="252.47" cy="275.3" r="1.25" fill="#222"/>
<circle cx="256.32" cy="275.3" r="1.25" fill="#222"/>
<circle cx="260.18" cy="275.3" r="1.25" fill="#222"/>
<path d="M243.8 265.9V260H286.3V265.9" stroke="#2c2c2c" stroke-width="1.1" fill="none"/>
<circle cx="259.28" cy="254.5" r="1.25" fill="#222"/>
<circle cx="263.12" cy="254.5" r="1.25" fill="#222"/>
<circle cx="266.98" cy="254.5" r="1.25" fill="#222"/>
<circle cx="270.82" cy="254.5" r="1.25" fill="#222"/>
<text transform="translate(202.2,383.2) rotate(-90)" font-size="10.5" fill="#2a2a2a" stroke="#2a2a2a" stroke-width="0.32" textLength="18.6" lengthAdjust="spacingAndGlyphs">CD41</text>
<path d="M194.1 360.55H197.3M195.7 358.95V362.15" stroke="#2a2a2a" stroke-width="0.85" fill="none"/>
<text transform="translate(202.2,356.7) rotate(-90)" font-size="10.5" fill="#2a2a2a" stroke="#2a2a2a" stroke-width="0.32" textLength="34.1" lengthAdjust="spacingAndGlyphs">P-selectin</text>
<path d="M194.1 319.4H197.3M195.7 317.8V321" stroke="#2a2a2a" stroke-width="0.85" fill="none"/>
<text transform="translate(202.2,314.7) rotate(-90)" font-size="10.5" fill="#2a2a2a" stroke="#2a2a2a" stroke-width="0.32" textLength="11.4" lengthAdjust="spacingAndGlyphs">(%)</text>
<text x="222.7" y="407.9" text-anchor="end" font-size="9.0" fill="#2a2a2a" stroke="#2a2a2a" stroke-width="0.24" textLength="43" lengthAdjust="spacingAndGlyphs">S100A8/A9</text>
<path d="M241.5 405.6H246.1" stroke="#777" stroke-width="0.85" fill="none"/>
<path d="M262.9 405.6H267.1M265 403.5V407.7" stroke="#555" stroke-width="0.8" fill="none"/>
<path d="M283.6 405.6H287.8M285.7 403.5V407.7" stroke="#555" stroke-width="0.8" fill="none"/>
<text x="222.7" y="418.7" text-anchor="end" font-size="9.0" fill="#2a2a2a" stroke="#2a2a2a" stroke-width="0.24" textLength="16.5" lengthAdjust="spacingAndGlyphs">SSO</text>
<path d="M241.5 416.4H246.1" stroke="#777" stroke-width="0.85" fill="none"/>
<path d="M262.7 416.4H267.3" stroke="#777" stroke-width="0.85" fill="none"/>
<path d="M283.6 416.4H287.8M285.7 414.3V418.5" stroke="#555" stroke-width="0.8" fill="none"/>
<text x="374.5" y="233.4" font-weight="bold" font-size="12" fill="#111" stroke="#111" stroke-width="0.3">F</text>
<rect x="420.2" y="391.16" width="12.6" height="3.14" fill="url(#p_ctrl)"/>
<rect x="441.4" y="321.71" width="12.6" height="72.59" fill="url(#p_gray)"/>
<rect x="462.2" y="344.93" width="12.6" height="49.37" fill="url(#p_lb)"/>
<circle cx="426.7" cy="383.9" r="2.0"/>
<circle cx="424.7" cy="388.6" r="2.0"/>
<circle cx="426.9" cy="388.6" r="2.0"/>
<circle cx="429" cy="389.2" r="2.0"/>
<circle cx="421.4" cy="392.5" r="2.0"/>
<circle cx="424.7" cy="393" r="2.0"/>
<circle cx="428" cy="393" r="2.0"/>
<circle cx="431.4" cy="393" r="2.0"/>
<circle cx="442.3" cy="291.6" r="2.0"/>
<circle cx="444.8" cy="291.3" r="2.0"/>
<circle cx="447.3" cy="292.4" r="2.0"/>
<circle cx="449.8" cy="291.6" r="2.0"/>
<circle cx="452.4" cy="292" r="2.0"/>
<circle cx="442.3" cy="320.7" r="2.0"/>
<circle cx="444.8" cy="320.2" r="2.0"/>
<circle cx="447.3" cy="319" r="2.0"/>
<circle cx="449.8" cy="321.5" r="2.0"/>
<circle cx="452.4" cy="320.7" r="2.0"/>
<circle cx="447.3" cy="346.6" r="2.0"/>
<circle cx="446.2" cy="355" r="2.0"/>
<circle cx="448.2" cy="355" r="2.0"/>
<circle cx="447.3" cy="360" r="2.0"/>
<circle cx="447.3" cy="368.7" r="2.0"/>
<circle cx="464.9" cy="291.4" r="2.0"/>
<circle cx="468.3" cy="291.4" r="2.0"/>
<circle cx="471.6" cy="291.7" r="2.0"/>
<circle cx="468.3" cy="306.9" r="2.0"/>
<circle cx="468.3" cy="326.8" r="2.0"/>
<circle cx="468.3" cy="334.9" r="2.0"/>
<circle cx="468.3" cy="342.4" r="2.0"/>
<circle cx="464.1" cy="354.1" r="2.0"/>
<circle cx="468.3" cy="354.1" r="2.0"/>
<circle cx="472.4" cy="354.1" r="2.0"/>
<circle cx="462.4" cy="360" r="2.0"/>
<circle cx="465.7" cy="360.3" r="2.0"/>
<circle cx="469.1" cy="359.7" r="2.0"/>
<circle cx="472.4" cy="360.8" r="2.0"/>
<circle cx="464.1" cy="363.3" r="2.0"/>
<circle cx="466.6" cy="365.8" r="2.0"/>
<circle cx="470.3" cy="363.3" r="2.0"/>
<circle cx="474.1" cy="361.3" r="2.0"/>
<circle cx="468.3" cy="372.5" r="2.0"/>
<circle cx="468.3" cy="386.4" r="2.0"/>
<path d="M447.7 313.34V330.08M443.9 313.34H451.5M443.9 330.08H451.5" stroke="#2a2a2a" stroke-width="1.15" fill="none"/>
<path d="M468.5 337.4V352.46M464.7 337.4H472.3M464.7 352.46H472.3" stroke="#2a2a2a" stroke-width="1.15" fill="none"/>
<path d="M412.7 286.4V394.3H481.6" stroke="#151515" stroke-width="1.4" fill="none"/>
<path d="M408.9 394.3H412.7M408.9 368.15H412.7M408.9 342H412.7M408.9 315.85H412.7M408.9 289.7H412.7M426.5 394.3V397.7M447.7 394.3V397.7M468.5 394.3V397.7" stroke="#151515" stroke-width="1" fill="none"/>
<text x="406.1" y="396.9" text-anchor="end" font-size="9.4" fill="#2a2a2a" stroke="#2a2a2a" stroke-width="0.05" textLength="4.7" lengthAdjust="spacingAndGlyphs">0</text>
<text x="406.1" y="370.75" text-anchor="end" font-size="9.4" fill="#2a2a2a" stroke="#2a2a2a" stroke-width="0.05" textLength="9.41" lengthAdjust="spacingAndGlyphs">25</text>
<text x="406.1" y="344.6" text-anchor="end" font-size="9.4" fill="#2a2a2a" stroke="#2a2a2a" stroke-width="0.05" textLength="9.41" lengthAdjust="spacingAndGlyphs">50</text>
<text x="406.1" y="318.45" text-anchor="end" font-size="9.4" fill="#2a2a2a" stroke="#2a2a2a" stroke-width="0.05" textLength="9.41" lengthAdjust="spacingAndGlyphs">75</text>
<text x="406.1" y="292.3" text-anchor="end" font-size="9.4" fill="#2a2a2a" stroke="#2a2a2a" stroke-width="0.05" textLength="14.11" lengthAdjust="spacingAndGlyphs">100</text>
<path d="M426.3 283.4V277.5H447.5V283.4" stroke="#2c2c2c" stroke-width="1.1" fill="none"/>
<circle cx="431.12" cy="272" r="1.25" fill="#222"/>
<circle cx="434.97" cy="272" r="1.25" fill="#222"/>
<circle cx="438.82" cy="272" r="1.25" fill="#222"/>
<circle cx="442.67" cy="272" r="1.25" fill="#222"/>
<path d="M447.5 261.7V255.8H468.8V261.7" stroke="#2c2c2c" stroke-width="1.1" fill="none"/>
<circle cx="456.22" cy="250.3" r="1.25" fill="#222"/>
<circle cx="460.07" cy="250.3" r="1.25" fill="#222"/>
<path d="M426.3 239.7V233.8H468.8V239.7" stroke="#2c2c2c" stroke-width="1.1" fill="none"/>
<circle cx="441.78" cy="228.3" r="1.25" fill="#222"/>
<circle cx="445.62" cy="228.3" r="1.25" fill="#222"/>
<circle cx="449.48" cy="228.3" r="1.25" fill="#222"/>
<circle cx="453.32" cy="228.3" r="1.25" fill="#222"/>
<text transform="translate(384.9,382.7) rotate(-90)" font-size="10.5" fill="#2a2a2a" stroke="#2a2a2a" stroke-width="0.32" textLength="18.5" lengthAdjust="spacingAndGlyphs">CD41</text>
<path d="M376.8 360.15H380M378.4 358.55V361.75" stroke="#2a2a2a" stroke-width="0.85" fill="none"/>
<text transform="translate(384.9,356.2) rotate(-90)" font-size="10.5" fill="#2a2a2a" stroke="#2a2a2a" stroke-width="0.32" textLength="36.6" lengthAdjust="spacingAndGlyphs">Annexin-V</text>
<path d="M376.8 316.8H380M378.4 315.2V318.4" stroke="#2a2a2a" stroke-width="0.85" fill="none"/>
<text transform="translate(384.9,311.9) rotate(-90)" font-size="10.5" fill="#2a2a2a" stroke="#2a2a2a" stroke-width="0.32" textLength="11.6" lengthAdjust="spacingAndGlyphs">(%)</text>
<text x="406.5" y="411" text-anchor="end" font-size="9.0" fill="#2a2a2a" stroke="#2a2a2a" stroke-width="0.24" textLength="44" lengthAdjust="spacingAndGlyphs">S100A8/A9</text>
<path d="M424.2 408.7H428.8" stroke="#777" stroke-width="0.85" fill="none"/>
<path d="M445.6 408.7H449.8M447.7 406.6V410.8" stroke="#555" stroke-width="0.8" fill="none"/>
<path d="M466.4 408.7H470.6M468.5 406.6V410.8" stroke="#555" stroke-width="0.8" fill="none"/>
<text x="406.5" y="421.8" text-anchor="end" font-size="9.0" fill="#2a2a2a" stroke="#2a2a2a" stroke-width="0.24" textLength="16.3" lengthAdjust="spacingAndGlyphs">SSO</text>
<path d="M424.2 419.5H428.8" stroke="#777" stroke-width="0.85" fill="none"/>
<path d="M445.4 419.5H450" stroke="#777" stroke-width="0.85" fill="none"/>
<path d="M466.4 419.5H470.6M468.5 417.4V421.6" stroke="#555" stroke-width="0.8" fill="none"/>
<text x="11.7" y="449" font-weight="bold" font-size="12" fill="#111" stroke="#111" stroke-width="0.3">G</text>
<rect x="60.1" y="648.25" width="11.8" height="1.04" fill="url(#p_ctrl)"/>
<rect x="79.7" y="600.18" width="11.8" height="49.12" fill="url(#p_gray)"/>
<rect x="99.2" y="595.69" width="11.8" height="53.61" fill="url(#p_lb)"/>
<rect x="119" y="606.45" width="11.8" height="42.85" fill="url(#p_pp2)"/>
<rect x="138.9" y="599.66" width="11.8" height="49.64" fill="url(#p_teal2)"/>
<circle cx="61" cy="648.6" r="2.0"/>
<circle cx="62.2" cy="647.8" r="2.0"/>
<circle cx="64.5" cy="648.8" r="2.0"/>
<circle cx="66.3" cy="649.2" r="2.0"/>
<circle cx="68.2" cy="648.8" r="2.0"/>
<circle cx="70.2" cy="647.6" r="2.0"/>
<circle cx="71.5" cy="648.6" r="2.0"/>
<circle cx="66" cy="649.8" r="2.0"/>
<circle cx="85.7" cy="547.5" r="2.0"/>
<circle cx="90.3" cy="546" r="2.0"/>
<circle cx="85.7" cy="558.1" r="2.0"/>
<circle cx="85.7" cy="565.9" r="2.0"/>
<circle cx="85.7" cy="574.4" r="2.0"/>
<circle cx="80.8" cy="580.3" r="2.0"/>
<circle cx="85.7" cy="584.1" r="2.0"/>
<circle cx="85.7" cy="588.3" r="2.0"/>
<circle cx="80.8" cy="597.2" r="2.0"/>
<circle cx="85.7" cy="599.8" r="2.0"/>
<circle cx="80.8" cy="605.3" r="2.0"/>
<circle cx="85.7" cy="606.1" r="2.0"/>
<circle cx="88.2" cy="607.8" r="2.0"/>
<circle cx="80.8" cy="617.3" r="2.0"/>
<circle cx="85.7" cy="615.8" r="2.0"/>
<circle cx="90.3" cy="619.4" r="2.0"/>
<circle cx="85.7" cy="623" r="2.0"/>
<circle cx="85.7" cy="627.9" r="2.0"/>
<circle cx="80.8" cy="639.1" r="2.0"/>
<circle cx="85.7" cy="639.1" r="2.0"/>
<circle cx="90.3" cy="639.1" r="2.0"/>
<circle cx="102.6" cy="548.6" r="2.0"/>
<circle cx="107.7" cy="549.6" r="2.0"/>
<circle cx="100.5" cy="561.7" r="2.0"/>
<circle cx="105.1" cy="561.7" r="2.0"/>
<circle cx="109.8" cy="563" r="2.0"/>
<circle cx="100.5" cy="567.2" r="2.0"/>
<circle cx="105.1" cy="568.7" r="2.0"/>
<circle cx="100.5" cy="581.4" r="2.0"/>
<circle cx="105.1" cy="581.4" r="2.0"/>
<circle cx="109.8" cy="578.2" r="2.0"/>
<circle cx="105.1" cy="612.5" r="2.0"/>
<circle cx="105.1" cy="621.1" r="2.0"/>
<circle cx="105.1" cy="631.1" r="2.0"/>
<circle cx="100.5" cy="635.3" r="2.0"/>
<circle cx="105.1" cy="635.7" r="2.0"/>
<circle cx="109.8" cy="634.3" r="2.0"/>
<circle cx="100.5" cy="640" r="2.0"/>
<circle cx="109.8" cy="639.1" r="2.0"/>
<circle cx="125.2" cy="549" r="2.0"/>
<circle cx="125.2" cy="560.2" r="2.0"/>
<circle cx="120.3" cy="580.7" r="2.0"/>
<circle cx="129.4" cy="578.6" r="2.0"/>
<circle cx="125.2" cy="608.9" r="2.0"/>
<circle cx="120.3" cy="622.6" r="2.0"/>
<circle cx="120.3" cy="626.9" r="2.0"/>
<circle cx="129.4" cy="626.4" r="2.0"/>
<circle cx="120.3" cy="642.7" r="2.0"/>
<circle cx="129.4" cy="639.5" r="2.0"/>
<circle cx="144.9" cy="557.5" r="2.0"/>
<circle cx="144.9" cy="567.2" r="2.0"/>
<circle cx="144.9" cy="597.7" r="2.0"/>
<circle cx="140" cy="609.9" r="2.0"/>
<circle cx="149.5" cy="613.1" r="2.0"/>
<circle cx="140" cy="617.3" r="2.0"/>
<circle cx="144.9" cy="624.7" r="2.0"/>
<circle cx="144.9" cy="644.8" r="2.0"/>
<path d="M85.6 592.97V607.4M81.8 592.97H89.4M81.8 607.4H89.4" stroke="#2a2a2a" stroke-width="1.15" fill="none"/>
<path d="M105.1 587.02V604.37M101.3 587.02H108.9M101.3 604.37H108.9" stroke="#2a2a2a" stroke-width="1.15" fill="none"/>
<path d="M124.9 595.48V617.43M121.1 595.48H128.7M121.1 617.43H128.7" stroke="#2a2a2a" stroke-width="1.15" fill="none"/>
<path d="M144.8 587.64V611.68M141 587.64H148.6M141 611.68H148.6" stroke="#2a2a2a" stroke-width="1.15" fill="none"/>
<path d="M52.75 541.5V649.3H155.9" stroke="#151515" stroke-width="1.4" fill="none"/>
<path d="M48.95 649.3H52.75M48.95 623.17H52.75M48.95 597.05H52.75M48.95 570.92H52.75M48.95 544.8H52.75M66 649.3V652.7M85.6 649.3V652.7M105.1 649.3V652.7M124.9 649.3V652.7M144.8 649.3V652.7" stroke="#151515" stroke-width="1" fill="none"/>
<text x="46.15" y="651.9" text-anchor="end" font-size="9.4" fill="#2a2a2a" stroke="#2a2a2a" stroke-width="0.05" textLength="4.7" lengthAdjust="spacingAndGlyphs">0</text>
<text x="46.15" y="625.77" text-anchor="end" font-size="9.4" fill="#2a2a2a" stroke="#2a2a2a" stroke-width="0.05" textLength="9.41" lengthAdjust="spacingAndGlyphs">25</text>
<text x="46.15" y="599.65" text-anchor="end" font-size="9.4" fill="#2a2a2a" stroke="#2a2a2a" stroke-width="0.05" textLength="9.41" lengthAdjust="spacingAndGlyphs">50</text>
<text x="46.15" y="573.52" text-anchor="end" font-size="9.4" fill="#2a2a2a" stroke="#2a2a2a" stroke-width="0.05" textLength="9.41" lengthAdjust="spacingAndGlyphs">75</text>
<text x="46.15" y="547.4" text-anchor="end" font-size="9.4" fill="#2a2a2a" stroke="#2a2a2a" stroke-width="0.05" textLength="14.11" lengthAdjust="spacingAndGlyphs">100</text>
<path d="M65.5 539.6V533.7H85.5V539.6" stroke="#2c2c2c" stroke-width="1.1" fill="none"/>
<circle cx="69.72" cy="528.2" r="1.25" fill="#222"/>
<circle cx="73.58" cy="528.2" r="1.25" fill="#222"/>
<circle cx="77.42" cy="528.2" r="1.25" fill="#222"/>
<circle cx="81.28" cy="528.2" r="1.25" fill="#222"/>
<path d="M65.5 517.4V511.5H105.2V517.4" stroke="#2c2c2c" stroke-width="1.1" fill="none"/>
<circle cx="79.57" cy="506" r="1.25" fill="#222"/>
<circle cx="83.42" cy="506" r="1.25" fill="#222"/>
<circle cx="87.27" cy="506" r="1.25" fill="#222"/>
<circle cx="91.12" cy="506" r="1.25" fill="#222"/>
<path d="M65.5 495.1V489.2H124.6V495.1" stroke="#2c2c2c" stroke-width="1.1" fill="none"/>
<circle cx="91.2" cy="483.7" r="1.25" fill="#222"/>
<circle cx="95.05" cy="483.7" r="1.25" fill="#222"/>
<circle cx="98.9" cy="483.7" r="1.25" fill="#222"/>
<path d="M65.5 473.4V467.5H144.6V473.4" stroke="#2c2c2c" stroke-width="1.1" fill="none"/>
<circle cx="101.2" cy="462" r="1.25" fill="#222"/>
<circle cx="105.05" cy="462" r="1.25" fill="#222"/>
<circle cx="108.9" cy="462" r="1.25" fill="#222"/>
<text transform="translate(24.8,643.6) rotate(-90)" font-size="10.5" fill="#2a2a2a" stroke="#2a2a2a" stroke-width="0.32" textLength="18.6" lengthAdjust="spacingAndGlyphs">CD41</text>
<path d="M16.7 621.3H19.9M18.3 619.7V622.9" stroke="#2a2a2a" stroke-width="0.85" fill="none"/>
<text transform="translate(24.8,617) rotate(-90)" font-size="10.5" fill="#2a2a2a" stroke="#2a2a2a" stroke-width="0.32" textLength="19.1" lengthAdjust="spacingAndGlyphs">CD61</text>
<path d="M16.7 594.55H19.9M18.3 592.95V596.15" stroke="#2a2a2a" stroke-width="0.85" fill="none"/>
<text transform="translate(24.8,589) rotate(-90)" font-size="10.5" fill="#2a2a2a" stroke="#2a2a2a" stroke-width="0.32" textLength="19.1" lengthAdjust="spacingAndGlyphs">PAC-1</text>
<path d="M16.7 565.85H19.9M18.3 564.25V567.45" stroke="#2a2a2a" stroke-width="0.85" fill="none"/>
<text transform="translate(24.8,560.9) rotate(-90)" font-size="10.5" fill="#2a2a2a" stroke="#2a2a2a" stroke-width="0.32" textLength="11.8" lengthAdjust="spacingAndGlyphs">(%)</text>
<text x="46.4" y="664.7" text-anchor="end" font-size="9.0" fill="#2a2a2a" stroke="#2a2a2a" stroke-width="0.24" textLength="44.3" lengthAdjust="spacingAndGlyphs">S100A8/A9</text>
<path d="M63.7 662.4H68.3" stroke="#777" stroke-width="0.85" fill="none"/>
<path d="M83.5 662.4H87.7M85.6 660.3V664.5" stroke="#555" stroke-width="0.8" fill="none"/>
<path d="M103 662.4H107.2M105.1 660.3V664.5" stroke="#555" stroke-width="0.8" fill="none"/>
<path d="M122.8 662.4H127M124.9 660.3V664.5" stroke="#555" stroke-width="0.8" fill="none"/>
<path d="M142.7 662.4H146.9M144.8 660.3V664.5" stroke="#555" stroke-width="0.8" fill="none"/>
<text x="46.4" y="675.5" text-anchor="end" font-size="9.0" fill="#2a2a2a" stroke="#2a2a2a" stroke-width="0.24" textLength="45.5" lengthAdjust="spacingAndGlyphs">PRT-060318</text>
<path d="M63.7 673.2H68.3" stroke="#777" stroke-width="0.85" fill="none"/>
<path d="M83.3 673.2H87.9" stroke="#777" stroke-width="0.85" fill="none"/>
<path d="M103 673.2H107.2M105.1 671.1V675.3" stroke="#555" stroke-width="0.8" fill="none"/>
<path d="M122.6 673.2H127.2" stroke="#777" stroke-width="0.85" fill="none"/>
<path d="M142.5 673.2H147.1" stroke="#777" stroke-width="0.85" fill="none"/>
<text x="46.4" y="686.2" text-anchor="end" font-size="9.0" fill="#2a2a2a" stroke="#2a2a2a" stroke-width="0.24" textLength="14.4" lengthAdjust="spacingAndGlyphs">PP2</text>
<path d="M63.7 683.9H68.3" stroke="#777" stroke-width="0.85" fill="none"/>
<path d="M83.3 683.9H87.9" stroke="#777" stroke-width="0.85" fill="none"/>
<path d="M102.8 683.9H107.4" stroke="#777" stroke-width="0.85" fill="none"/>
<path d="M122.8 683.9H127M124.9 681.8V686" stroke="#555" stroke-width="0.8" fill="none"/>
<path d="M142.5 683.9H147.1" stroke="#777" stroke-width="0.85" fill="none"/>
<text x="46.4" y="696.7" text-anchor="end" font-size="9.0" fill="#2a2a2a" stroke="#2a2a2a" stroke-width="0.24" textLength="32.2" lengthAdjust="spacingAndGlyphs">Ibrutinib</text>
<path d="M63.7 694.4H68.3" stroke="#777" stroke-width="0.85" fill="none"/>
<path d="M83.3 694.4H87.9" stroke="#777" stroke-width="0.85" fill="none"/>
<path d="M102.8 694.4H107.4" stroke="#777" stroke-width="0.85" fill="none"/>
<path d="M122.6 694.4H127.2" stroke="#777" stroke-width="0.85" fill="none"/>
<path d="M142.7 694.4H146.9M144.8 692.3V696.5" stroke="#555" stroke-width="0.8" fill="none"/>
<text x="191.2" y="449" font-weight="bold" font-size="12" fill="#111" stroke="#111" stroke-width="0.3">H</text>
<rect x="238.8" y="638.04" width="11.6" height="10.46" fill="url(#p_ctrl)"/>
<rect x="258.7" y="574.34" width="11.6" height="74.16" fill="url(#p_gray)"/>
<rect x="277.9" y="633.23" width="11.6" height="15.27" fill="url(#p_lb)"/>
<rect x="298" y="609.69" width="11.6" height="38.81" fill="url(#p_pp2)"/>
<rect x="317.7" y="599.97" width="11.6" height="48.53" fill="url(#p_teal2)"/>
<circle cx="243.6" cy="625.2" r="2.0"/>
<circle cx="246.2" cy="625.2" r="2.0"/>
<circle cx="239.8" cy="634.3" r="2.0"/>
<circle cx="244" cy="633.2" r="2.0"/>
<circle cx="249.3" cy="631.1" r="2.0"/>
<circle cx="244" cy="637.4" r="2.0"/>
<circle cx="244" cy="642.1" r="2.0"/>
<circle cx="240.9" cy="646" r="2.0"/>
<circle cx="245.1" cy="646.4" r="2.0"/>
<circle cx="249.3" cy="646" r="2.0"/>
<circle cx="259.9" cy="547.5" r="2.0"/>
<circle cx="264.1" cy="545.4" r="2.0"/>
<circle cx="269" cy="548.6" r="2.0"/>
<circle cx="264.8" cy="552.4" r="2.0"/>
<circle cx="264.8" cy="558.5" r="2.0"/>
<circle cx="264.1" cy="565.5" r="2.0"/>
<circle cx="264.1" cy="586.2" r="2.0"/>
<circle cx="259.3" cy="594.7" r="2.0"/>
<circle cx="269" cy="596.2" r="2.0"/>
<circle cx="264.1" cy="599.3" r="2.0"/>
<circle cx="264.1" cy="609.5" r="2.0"/>
<circle cx="282.1" cy="618.4" r="2.0"/>
<circle cx="285.9" cy="615.9" r="2.0"/>
<circle cx="279.6" cy="626.9" r="2.0"/>
<circle cx="285.9" cy="624.7" r="2.0"/>
<circle cx="284.2" cy="629.4" r="2.0"/>
<circle cx="281.7" cy="633.2" r="2.0"/>
<circle cx="285.9" cy="635.7" r="2.0"/>
<circle cx="279.6" cy="641.7" r="2.0"/>
<circle cx="284.2" cy="642.7" r="2.0"/>
<circle cx="288" cy="644.8" r="2.0"/>
<circle cx="279.6" cy="646.3" r="2.0"/>
<circle cx="284.2" cy="646.3" r="2.0"/>
<circle cx="299" cy="595.5" r="2.0"/>
<circle cx="303.7" cy="593.4" r="2.0"/>
<circle cx="307.9" cy="589.2" r="2.0"/>
<circle cx="303.7" cy="601" r="2.0"/>
<circle cx="301.2" cy="611.6" r="2.0"/>
<circle cx="303.7" cy="617.3" r="2.0"/>
<circle cx="308.6" cy="620.9" r="2.0"/>
<circle cx="303.7" cy="622.6" r="2.0"/>
<circle cx="299" cy="627.9" r="2.0"/>
<circle cx="308.6" cy="625.2" r="2.0"/>
<circle cx="320.6" cy="579.9" r="2.0"/>
<circle cx="325.5" cy="579.9" r="2.0"/>
<circle cx="318.5" cy="588.3" r="2.0"/>
<circle cx="322.7" cy="588.3" r="2.0"/>
<circle cx="327.6" cy="589.2" r="2.0"/>
<circle cx="318.5" cy="602.5" r="2.0"/>
<circle cx="327.6" cy="602.5" r="2.0"/>
<circle cx="322.7" cy="605.3" r="2.0"/>
<circle cx="322.7" cy="618" r="2.0"/>
<circle cx="322.7" cy="625.2" r="2.0"/>
<path d="M244.6 633.86V642.22M240.8 633.86H248.4M240.8 642.22H248.4" stroke="#2a2a2a" stroke-width="1.15" fill="none"/>
<path d="M264.5 568.17V580.51M260.7 568.17H268.3M260.7 580.51H268.3" stroke="#2a2a2a" stroke-width="1.15" fill="none"/>
<path d="M283.7 629.04V637.41M279.9 629.04H287.5M279.9 637.41H287.5" stroke="#2a2a2a" stroke-width="1.15" fill="none"/>
<path d="M303.8 604.46V614.92M300 604.46H307.6M300 614.92H307.6" stroke="#2a2a2a" stroke-width="1.15" fill="none"/>
<path d="M323.5 594.74V605.2M319.7 594.74H327.3M319.7 605.2H327.3" stroke="#2a2a2a" stroke-width="1.15" fill="none"/>
<path d="M231.55 540.6V648.5H333" stroke="#151515" stroke-width="1.4" fill="none"/>
<path d="M227.75 648.5H231.55M227.75 622.35H231.55M227.75 596.2H231.55M227.75 570.05H231.55M227.75 543.9H231.55M244.6 648.5V651.9M264.5 648.5V651.9M283.7 648.5V651.9M303.8 648.5V651.9M323.5 648.5V651.9" stroke="#151515" stroke-width="1" fill="none"/>
<text x="224.95" y="651.1" text-anchor="end" font-size="9.4" fill="#2a2a2a" stroke="#2a2a2a" stroke-width="0.05" textLength="4.7" lengthAdjust="spacingAndGlyphs">0</text>
<text x="224.95" y="624.95" text-anchor="end" font-size="9.4" fill="#2a2a2a" stroke="#2a2a2a" stroke-width="0.05" textLength="9.41" lengthAdjust="spacingAndGlyphs">25</text>
<text x="224.95" y="598.8" text-anchor="end" font-size="9.4" fill="#2a2a2a" stroke="#2a2a2a" stroke-width="0.05" textLength="9.41" lengthAdjust="spacingAndGlyphs">50</text>
<text x="224.95" y="572.65" text-anchor="end" font-size="9.4" fill="#2a2a2a" stroke="#2a2a2a" stroke-width="0.05" textLength="9.41" lengthAdjust="spacingAndGlyphs">75</text>
<text x="224.95" y="546.5" text-anchor="end" font-size="9.4" fill="#2a2a2a" stroke="#2a2a2a" stroke-width="0.05" textLength="14.11" lengthAdjust="spacingAndGlyphs">100</text>
<path d="M244.6 450.4V444.5H323.1V450.4" stroke="#2c2c2c" stroke-width="1.1" fill="none"/>
<circle cx="278.08" cy="439" r="1.25" fill="#222"/>
<circle cx="281.93" cy="439" r="1.25" fill="#222"/>
<circle cx="285.78" cy="439" r="1.25" fill="#222"/>
<circle cx="289.62" cy="439" r="1.25" fill="#222"/>
<path d="M244.6 473.4V467.5H303.7V473.4" stroke="#2c2c2c" stroke-width="1.1" fill="none"/>
<circle cx="270.3" cy="462" r="1.25" fill="#222"/>
<circle cx="274.15" cy="462" r="1.25" fill="#222"/>
<circle cx="278" cy="462" r="1.25" fill="#222"/>
<path d="M264.6 495V489.1H303.7V495" stroke="#2c2c2c" stroke-width="1.1" fill="none"/>
<circle cx="278.38" cy="483.6" r="1.25" fill="#222"/>
<circle cx="282.22" cy="483.6" r="1.25" fill="#222"/>
<circle cx="286.07" cy="483.6" r="1.25" fill="#222"/>
<circle cx="289.92" cy="483.6" r="1.25" fill="#222"/>
<path d="M264.6 516.8V510.9H284V516.8" stroke="#2c2c2c" stroke-width="1.1" fill="none"/>
<circle cx="268.53" cy="505.4" r="1.25" fill="#222"/>
<circle cx="272.38" cy="505.4" r="1.25" fill="#222"/>
<circle cx="276.23" cy="505.4" r="1.25" fill="#222"/>
<circle cx="280.07" cy="505.4" r="1.25" fill="#222"/>
<path d="M244.6 539.6V533.7H262.5V539.6" stroke="#2c2c2c" stroke-width="1.1" fill="none"/>
<circle cx="247.78" cy="528.2" r="1.25" fill="#222"/>
<circle cx="251.62" cy="528.2" r="1.25" fill="#222"/>
<circle cx="255.48" cy="528.2" r="1.25" fill="#222"/>
<circle cx="259.32" cy="528.2" r="1.25" fill="#222"/>
<path d="M266.8 539.6V533.7H323.1V539.6" stroke="#2c2c2c" stroke-width="1.1" fill="none"/>
<circle cx="293.03" cy="528.2" r="1.25" fill="#222"/>
<circle cx="296.88" cy="528.2" r="1.25" fill="#222"/>
<text transform="translate(203.8,635.6) rotate(-90)" font-size="10.5" fill="#2a2a2a" stroke="#2a2a2a" stroke-width="0.32" textLength="18.6" lengthAdjust="spacingAndGlyphs">CD41</text>
<path d="M195.7 612.95H198.9M197.3 611.35V614.55" stroke="#2a2a2a" stroke-width="0.85" fill="none"/>
<text transform="translate(203.8,609.1) rotate(-90)" font-size="10.5" fill="#2a2a2a" stroke="#2a2a2a" stroke-width="0.32" textLength="34.1" lengthAdjust="spacingAndGlyphs">P-selectin</text>
<path d="M195.7 571.8H198.9M197.3 570.2V573.4" stroke="#2a2a2a" stroke-width="0.85" fill="none"/>
<text transform="translate(203.8,567.1) rotate(-90)" font-size="10.5" fill="#2a2a2a" stroke="#2a2a2a" stroke-width="0.32" textLength="11.4" lengthAdjust="spacingAndGlyphs">(%)</text>
<text x="224.8" y="663.9" text-anchor="end" font-size="9.0" fill="#2a2a2a" stroke="#2a2a2a" stroke-width="0.24" textLength="43.6" lengthAdjust="spacingAndGlyphs">S100A8/A9</text>
<path d="M242.3 661.6H246.9" stroke="#777" stroke-width="0.85" fill="none"/>
<path d="M262.4 661.6H266.6M264.5 659.5V663.7" stroke="#555" stroke-width="0.8" fill="none"/>
<path d="M281.6 661.6H285.8M283.7 659.5V663.7" stroke="#555" stroke-width="0.8" fill="none"/>
<path d="M301.7 661.6H305.9M303.8 659.5V663.7" stroke="#555" stroke-width="0.8" fill="none"/>
<path d="M321.4 661.6H325.6M323.5 659.5V663.7" stroke="#555" stroke-width="0.8" fill="none"/>
<text x="224.8" y="674.5" text-anchor="end" font-size="9.0" fill="#2a2a2a" stroke="#2a2a2a" stroke-width="0.24" textLength="44.3" lengthAdjust="spacingAndGlyphs">PRT-060318</text>
<path d="M242.3 672.2H246.9" stroke="#777" stroke-width="0.85" fill="none"/>
<path d="M262.2 672.2H266.8" stroke="#777" stroke-width="0.85" fill="none"/>
<path d="M281.6 672.2H285.8M283.7 670.1V674.3" stroke="#555" stroke-width="0.8" fill="none"/>
<path d="M301.5 672.2H306.1" stroke="#777" stroke-width="0.85" fill="none"/>
<path d="M321.2 672.2H325.8" stroke="#777" stroke-width="0.85" fill="none"/>
<text x="224.8" y="685.3" text-anchor="end" font-size="9.0" fill="#2a2a2a" stroke="#2a2a2a" stroke-width="0.24" textLength="12.8" lengthAdjust="spacingAndGlyphs">PP2</text>
<path d="M242.3 683H246.9" stroke="#777" stroke-width="0.85" fill="none"/>
<path d="M262.2 683H266.8" stroke="#777" stroke-width="0.85" fill="none"/>
<path d="M281.4 683H286" stroke="#777" stroke-width="0.85" fill="none"/>
<path d="M301.7 683H305.9M303.8 680.9V685.1" stroke="#555" stroke-width="0.8" fill="none"/>
<path d="M321.2 683H325.8" stroke="#777" stroke-width="0.85" fill="none"/>
<text x="224.8" y="695.7" text-anchor="end" font-size="9.0" fill="#2a2a2a" stroke="#2a2a2a" stroke-width="0.24" textLength="30.8" lengthAdjust="spacingAndGlyphs">Ibrutinib</text>
<path d="M242.3 693.4H246.9" stroke="#777" stroke-width="0.85" fill="none"/>
<path d="M262.2 693.4H266.8" stroke="#777" stroke-width="0.85" fill="none"/>
<path d="M281.4 693.4H286" stroke="#777" stroke-width="0.85" fill="none"/>
<path d="M301.5 693.4H306.1" stroke="#777" stroke-width="0.85" fill="none"/>
<path d="M321.4 693.4H325.6M323.5 691.3V695.5" stroke="#555" stroke-width="0.8" fill="none"/>
<text x="376.5" y="449" font-weight="bold" font-size="12" fill="#111" stroke="#111" stroke-width="0.3">I</text>
<rect x="421.9" y="647.21" width="11.8" height="2.09" fill="url(#p_ctrl)"/>
<rect x="441.2" y="591.51" width="11.8" height="57.79" fill="url(#p_gray)"/>
<rect x="460.9" y="584.3" width="11.8" height="65" fill="url(#p_lb)"/>
<rect x="480.2" y="589.42" width="11.8" height="59.88" fill="url(#p_pp2)"/>
<rect x="500.1" y="591.51" width="11.8" height="57.79" fill="url(#p_teal2)"/>
<circle cx="428" cy="639.5" r="2.0"/>
<circle cx="426" cy="642.7" r="2.0"/>
<circle cx="429.5" cy="642.7" r="2.0"/>
<circle cx="424.5" cy="645" r="2.0"/>
<circle cx="427.5" cy="644.5" r="2.0"/>
<circle cx="430.5" cy="645" r="2.0"/>
<circle cx="433" cy="647.5" r="2.0"/>
<circle cx="422" cy="647.5" r="2.0"/>
<circle cx="424" cy="646" r="2.0"/>
<circle cx="427" cy="646.4" r="2.0"/>
<circle cx="430" cy="646" r="2.0"/>
<circle cx="432.5" cy="647" r="2.0"/>
<circle cx="423" cy="648.3" r="2.0"/>
<circle cx="426" cy="648.6" r="2.0"/>
<circle cx="429" cy="648.3" r="2.0"/>
<circle cx="431.5" cy="648.6" r="2.0"/>
<circle cx="447" cy="545.4" r="2.0"/>
<circle cx="442.8" cy="575.7" r="2.0"/>
<circle cx="446.4" cy="575.7" r="2.0"/>
<circle cx="449.8" cy="573.5" r="2.0"/>
<circle cx="451.9" cy="576.1" r="2.0"/>
<circle cx="447" cy="601" r="2.0"/>
<circle cx="447.7" cy="611" r="2.0"/>
<circle cx="449.1" cy="615.2" r="2.0"/>
<circle cx="447" cy="617.3" r="2.0"/>
<circle cx="447" cy="623.7" r="2.0"/>
<circle cx="466.7" cy="546.5" r="2.0"/>
<circle cx="462.5" cy="560.8" r="2.0"/>
<circle cx="467.1" cy="560.8" r="2.0"/>
<circle cx="471.3" cy="559.6" r="2.0"/>
<circle cx="466.7" cy="567.2" r="2.0"/>
<circle cx="466.7" cy="594.1" r="2.0"/>
<circle cx="464.6" cy="607.4" r="2.0"/>
<circle cx="469.2" cy="605.3" r="2.0"/>
<circle cx="463.9" cy="620.9" r="2.0"/>
<circle cx="469.2" cy="617.3" r="2.0"/>
<circle cx="481.9" cy="568.7" r="2.0"/>
<circle cx="484.5" cy="568.7" r="2.0"/>
<circle cx="487.9" cy="563.8" r="2.0"/>
<circle cx="490.4" cy="567.6" r="2.0"/>
<circle cx="487.2" cy="571.4" r="2.0"/>
<circle cx="487.8" cy="589.8" r="2.0"/>
<circle cx="483" cy="603.6" r="2.0"/>
<circle cx="487.8" cy="603.6" r="2.0"/>
<circle cx="490" cy="604" r="2.0"/>
<circle cx="486.2" cy="611" r="2.0"/>
<circle cx="486.2" cy="618" r="2.0"/>
<circle cx="501.4" cy="553.9" r="2.0"/>
<circle cx="510.5" cy="555" r="2.0"/>
<circle cx="506.3" cy="571.4" r="2.0"/>
<circle cx="501.4" cy="590.9" r="2.0"/>
<circle cx="510.5" cy="587.7" r="2.0"/>
<circle cx="506.3" cy="599.3" r="2.0"/>
<circle cx="506.3" cy="611" r="2.0"/>
<circle cx="506.3" cy="618.8" r="2.0"/>
<circle cx="506.3" cy="624.7" r="2.0"/>
<path d="M447.1 582.63V600.39M443.3 582.63H450.9M443.3 600.39H450.9" stroke="#2a2a2a" stroke-width="1.15" fill="none"/>
<path d="M466.8 575.31V593.29M463 575.31H470.6M463 593.29H470.6" stroke="#2a2a2a" stroke-width="1.15" fill="none"/>
<path d="M486.1 582.63V596.21M482.3 582.63H489.9M482.3 596.21H489.9" stroke="#2a2a2a" stroke-width="1.15" fill="none"/>
<path d="M506 581.69V601.33M502.2 581.69H509.8M502.2 601.33H509.8" stroke="#2a2a2a" stroke-width="1.15" fill="none"/>
<path d="M414.5 541.5V649.3H520" stroke="#151515" stroke-width="1.4" fill="none"/>
<path d="M410.7 649.3H414.5M410.7 623.17H414.5M410.7 597.05H414.5M410.7 570.92H414.5M410.7 544.8H414.5M427.8 649.3V652.7M447.1 649.3V652.7M466.8 649.3V652.7M486.1 649.3V652.7M506 649.3V652.7" stroke="#151515" stroke-width="1" fill="none"/>
<text x="407.9" y="651.9" text-anchor="end" font-size="9.4" fill="#2a2a2a" stroke="#2a2a2a" stroke-width="0.05" textLength="4.7" lengthAdjust="spacingAndGlyphs">0</text>
<text x="407.9" y="625.77" text-anchor="end" font-size="9.4" fill="#2a2a2a" stroke="#2a2a2a" stroke-width="0.05" textLength="9.41" lengthAdjust="spacingAndGlyphs">25</text>
<text x="407.9" y="599.65" text-anchor="end" font-size="9.4" fill="#2a2a2a" stroke="#2a2a2a" stroke-width="0.05" textLength="9.41" lengthAdjust="spacingAndGlyphs">50</text>
<text x="407.9" y="573.52" text-anchor="end" font-size="9.4" fill="#2a2a2a" stroke="#2a2a2a" stroke-width="0.05" textLength="9.41" lengthAdjust="spacingAndGlyphs">75</text>
<text x="407.9" y="547.4" text-anchor="end" font-size="9.4" fill="#2a2a2a" stroke="#2a2a2a" stroke-width="0.05" textLength="14.11" lengthAdjust="spacingAndGlyphs">100</text>
<path d="M427.1 539V533.1H447.1V539" stroke="#2c2c2c" stroke-width="1.1" fill="none"/>
<circle cx="431.33" cy="527.6" r="1.25" fill="#222"/>
<circle cx="435.18" cy="527.6" r="1.25" fill="#222"/>
<circle cx="439.03" cy="527.6" r="1.25" fill="#222"/>
<circle cx="442.88" cy="527.6" r="1.25" fill="#222"/>
<path d="M427.1 516.5V510.6H466.8V516.5" stroke="#2c2c2c" stroke-width="1.1" fill="none"/>
<circle cx="441.18" cy="505.1" r="1.25" fill="#222"/>
<circle cx="445.03" cy="505.1" r="1.25" fill="#222"/>
<circle cx="448.88" cy="505.1" r="1.25" fill="#222"/>
<circle cx="452.73" cy="505.1" r="1.25" fill="#222"/>
<path d="M427.1 494.4V488.5H486.2V494.4" stroke="#2c2c2c" stroke-width="1.1" fill="none"/>
<circle cx="450.88" cy="483" r="1.25" fill="#222"/>
<circle cx="454.72" cy="483" r="1.25" fill="#222"/>
<circle cx="458.57" cy="483" r="1.25" fill="#222"/>
<circle cx="462.42" cy="483" r="1.25" fill="#222"/>
<path d="M427.1 472.2V466.3H506.2V472.2" stroke="#2c2c2c" stroke-width="1.1" fill="none"/>
<circle cx="460.88" cy="460.8" r="1.25" fill="#222"/>
<circle cx="464.72" cy="460.8" r="1.25" fill="#222"/>
<circle cx="468.57" cy="460.8" r="1.25" fill="#222"/>
<circle cx="472.42" cy="460.8" r="1.25" fill="#222"/>
<text transform="translate(386,637.6) rotate(-90)" font-size="10.5" fill="#2a2a2a" stroke="#2a2a2a" stroke-width="0.32" textLength="18.5" lengthAdjust="spacingAndGlyphs">CD41</text>
<path d="M377.9 615.05H381.1M379.5 613.45V616.65" stroke="#2a2a2a" stroke-width="0.85" fill="none"/>
<text transform="translate(386,611.1) rotate(-90)" font-size="10.5" fill="#2a2a2a" stroke="#2a2a2a" stroke-width="0.32" textLength="36.6" lengthAdjust="spacingAndGlyphs">Annexin-V</text>
<path d="M377.9 571.7H381.1M379.5 570.1V573.3" stroke="#2a2a2a" stroke-width="0.85" fill="none"/>
<text transform="translate(386,566.8) rotate(-90)" font-size="10.5" fill="#2a2a2a" stroke="#2a2a2a" stroke-width="0.32" textLength="11.6" lengthAdjust="spacingAndGlyphs">(%)</text>
<text x="407.3" y="665.2" text-anchor="end" font-size="9.0" fill="#2a2a2a" stroke="#2a2a2a" stroke-width="0.24" textLength="44.4" lengthAdjust="spacingAndGlyphs">S100A8/A9</text>
<path d="M425.5 662.9H430.1" stroke="#777" stroke-width="0.85" fill="none"/>
<path d="M445 662.9H449.2M447.1 660.8V665" stroke="#555" stroke-width="0.8" fill="none"/>
<path d="M464.7 662.9H468.9M466.8 660.8V665" stroke="#555" stroke-width="0.8" fill="none"/>
<path d="M484 662.9H488.2M486.1 660.8V665" stroke="#555" stroke-width="0.8" fill="none"/>
<path d="M503.9 662.9H508.1M506 660.8V665" stroke="#555" stroke-width="0.8" fill="none"/>
<text x="407.3" y="675" text-anchor="end" font-size="9.0" fill="#2a2a2a" stroke="#2a2a2a" stroke-width="0.24" textLength="46" lengthAdjust="spacingAndGlyphs">PRT-060318</text>
<path d="M425.5 672.7H430.1" stroke="#777" stroke-width="0.85" fill="none"/>
<path d="M444.8 672.7H449.4" stroke="#777" stroke-width="0.85" fill="none"/>
<path d="M464.7 672.7H468.9M466.8 670.6V674.8" stroke="#555" stroke-width="0.8" fill="none"/>
<path d="M483.8 672.7H488.4" stroke="#777" stroke-width="0.85" fill="none"/>
<path d="M503.7 672.7H508.3" stroke="#777" stroke-width="0.85" fill="none"/>
<text x="407.3" y="685.5" text-anchor="end" font-size="9.0" fill="#2a2a2a" stroke="#2a2a2a" stroke-width="0.24" textLength="14.9" lengthAdjust="spacingAndGlyphs">PP2</text>
<path d="M425.5 683.2H430.1" stroke="#777" stroke-width="0.85" fill="none"/>
<path d="M444.8 683.2H449.4" stroke="#777" stroke-width="0.85" fill="none"/>
<path d="M464.5 683.2H469.1" stroke="#777" stroke-width="0.85" fill="none"/>
<path d="M484 683.2H488.2M486.1 681.1V685.3" stroke="#555" stroke-width="0.8" fill="none"/>
<path d="M503.7 683.2H508.3" stroke="#777" stroke-width="0.85" fill="none"/>
<text x="407.3" y="696.5" text-anchor="end" font-size="9.0" fill="#2a2a2a" stroke="#2a2a2a" stroke-width="0.24" textLength="32.6" lengthAdjust="spacingAndGlyphs">Ibrutinib</text>
<path d="M425.5 694.2H430.1" stroke="#777" stroke-width="0.85" fill="none"/>
<path d="M444.8 694.2H449.4" stroke="#777" stroke-width="0.85" fill="none"/>
<path d="M464.5 694.2H469.1" stroke="#777" stroke-width="0.85" fill="none"/>
<path d="M483.8 694.2H488.4" stroke="#777" stroke-width="0.85" fill="none"/>
<path d="M503.9 694.2H508.1M506 692.1V696.3" stroke="#555" stroke-width="0.8" fill="none"/>
</g>
</svg></body></html>
